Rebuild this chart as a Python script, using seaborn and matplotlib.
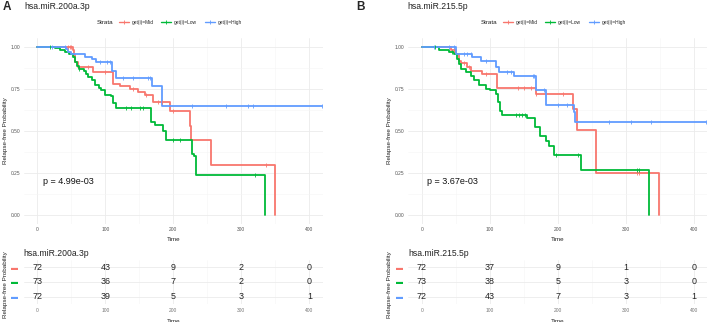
import numpy as np
import pandas as pd
import seaborn as sns
import matplotlib.pyplot as plt
from matplotlib.lines import Line2D

# ---- data ----
groups = ['get(i)=Mid', 'get(i)=Low', 'get(i)=High']
palette = {'get(i)=Mid': '#F8766D', 'get(i)=Low': '#00BA38', 'get(i)=High': '#619CFF'}

# panel A: hsa.miR.200a.3p
a_mid_t = [0, 52, 54, 55, 60, 82, 111, 122, 136, 148, 158, 170, 195, 224, 226, 256, 350]
a_mid_s = [1.0, 0.98, 0.95, 0.91, 0.878, 0.852, 0.78, 0.765, 0.748, 0.733, 0.714, 0.674, 0.615, 0.53, 0.445, 0.30, 0.0]
a_mid_c = [45, 48, 50, 75, 100, 140, 160, 178, 183, 200, 336]

a_low_t = [0, 26, 33, 41, 47, 52, 55, 58, 61, 68, 72, 75, 80, 85, 90, 94, 100, 108, 112, 116,
           167, 173, 185, 189, 228, 231, 234, 335]
a_low_s = [1.0, 0.99, 0.98, 0.967, 0.957, 0.94, 0.91, 0.886, 0.868, 0.856, 0.84, 0.82, 0.80, 0.774,
           0.754, 0.74, 0.715, 0.705, 0.665, 0.636, 0.55, 0.537, 0.498, 0.445, 0.36, 0.35, 0.24, 0.0]
a_low_c = [18, 62, 130, 138, 151, 156, 200, 210, 320]

a_high_t = [0, 42, 45, 49, 70, 80, 87, 110, 115, 169, 183, 418]
a_high_s = [1.0, 0.985, 0.97, 0.957, 0.937, 0.925, 0.909, 0.858, 0.811, 0.764, 0.65, 0.65]
a_high_c = [21, 41, 92, 102, 107, 126, 141, 163, 166, 227, 277, 310, 317, 418]

a_risk_mid = [72, 43, 9, 2, 0]
a_risk_low = [73, 36, 7, 2, 0]
a_risk_high = [72, 39, 5, 3, 1]

# panel B: hsa.miR.215.5p
b_mid_t = [0, 43, 50, 55, 58, 67, 73, 89, 110, 168, 223, 228, 256, 349]
b_mid_s = [1.0, 0.98, 0.956, 0.917, 0.9, 0.88, 0.855, 0.835, 0.757, 0.72, 0.63, 0.505, 0.252, 0.0]
b_mid_c = [48, 62, 70, 94, 141, 150, 160, 168, 207, 317, 320]

b_low_t = [0, 25, 40, 47, 52, 55, 58, 65, 72, 77, 84, 94, 101, 109, 112, 115, 118,
           155, 167, 174, 182, 187, 195, 234, 334]
b_low_s = [1.0, 0.98, 0.966, 0.956, 0.927, 0.897, 0.867, 0.847, 0.827, 0.80, 0.77, 0.75, 0.74,
           0.72, 0.67, 0.62, 0.597, 0.577, 0.52, 0.47, 0.44, 0.41, 0.357, 0.266, 0.0]
b_low_c = [20, 45, 138, 143, 148, 152, 198, 230, 317, 320]

b_high_t = [0, 51, 74, 87, 109, 114, 136, 168, 182, 224, 226, 418]
b_high_s = [1.0, 0.956, 0.937, 0.917, 0.877, 0.851, 0.827, 0.742, 0.655, 0.609, 0.55, 0.55]
b_high_c = [18, 40, 48, 62, 67, 72, 94, 126, 131, 163, 165, 180, 200, 214, 275, 307, 337, 418]

b_risk_mid = [72, 37, 9, 1, 0]
b_risk_low = [73, 38, 5, 3, 0]
b_risk_high = [72, 43, 7, 3, 1]

risk_times = [0, 100, 200, 300, 400]

sns.set_style('white')
plt.rcParams['font.family'] = ['Liberation Sans', 'DejaVu Sans']

W, H = 708, 322
fig = plt.figure(figsize=(W / 100, H / 100), dpi=100)


def rect(x0, y0, x1, y1):
    return [x0 / W, 1 - y1 / H, (x1 - x0) / W, (y1 - y0) / H]


def style_grid(ax):
    ax.grid(which='major', color='#EBEBEB', lw=0.6)
    ax.grid(which='minor', color='#F5F5F5', lw=0.4)
    for s in ax.spines.values():
        s.set_visible(False)


def km_panel(ax, curves, pval):
    rows = []
    for g, (t, s, c) in curves.items():
        rows.append(pd.DataFrame({'time': t, 'surv': s, 'group': g}))
    df = pd.concat(rows, ignore_index=True)
    sns.lineplot(data=df, x='time', y='surv', hue='group', palette=palette,
                 drawstyle='steps-post', estimator=None, legend=False,
                 linewidth=1.3, ax=ax)
    for g, (t, s, c) in curves.items():
        t = np.asarray(t)
        s = np.asarray(s)
        idx = np.searchsorted(t, c, side='right') - 1
        ax.plot(c, s[idx], ls='none', marker='|', ms=3.2, mew=0.6, color=palette[g])
    ax.set_xlim(-20, 420)
    ax.set_ylim(-0.05, 1.05)
    ax.set_xticks([0, 100, 200, 300, 400])
    ax.set_xticks([50, 150, 250, 350], minor=True)
    ax.set_yticks([0, 0.25, 0.5, 0.75, 1.0])
    ax.set_yticklabels(['0.00', '0.25', '0.50', '0.75', '1.00'])
    ax.set_yticks([0.125, 0.375, 0.625, 0.875], minor=True)
    style_grid(ax)
    ax.tick_params(which='major', labelsize=3.5, length=1.5, width=0.4, color='#555555',
                   labelcolor='#555555', pad=1)
    ax.tick_params(which='minor', length=0)
    ax.set_xlabel('Time', fontsize=4.5, color='#222222')
    ax.set_ylabel('Relapse-free Probability', fontsize=4.5, color='#222222')
    ax.xaxis.set_label_coords(0.5, -0.075)
    ax.yaxis.set_label_coords(-0.053, 0.5)
    ax.text(8, 0.2, pval, fontsize=6.5, ha='left', va='center', color='#111111')


def risk_panel(ax, title, counts):
    ax.set_xlim(-20, 420)
    ax.set_ylim(0.5, 3.5)
    for k, (g, n) in enumerate(counts.items()):
        row = 3 - k
        for t, v in zip(risk_times, n):
            ax.text(t, row, str(v), ha='center', va='center', fontsize=6.4, color='#222222')
    ax.set_xticks(risk_times)
    ax.set_xticks([50, 150, 250, 350], minor=True)
    ax.set_yticks([3, 2, 1])
    ax.set_yticklabels(['▬'] * 3)
    for lab, g in zip(ax.get_yticklabels(), counts.keys()):
        lab.set_color(palette[g])
    style_grid(ax)
    ax.tick_params(axis='x', labelsize=3.5, length=0, labelcolor='#777777', pad=3)
    ax.tick_params(axis='y', labelsize=5, length=0, pad=4)
    ax.tick_params(which='minor', length=0)
    ax.set_title(title, loc='left', fontsize=6.2, pad=3, color='#222222')
    ax.set_xlabel('Time', fontsize=4.5, color='#222222')
    ax.set_ylabel('Relapse-free Probability', fontsize=4.5, color='#222222')
    ax.xaxis.set_label_coords(0.5, -0.33)
    ax.yaxis.set_label_coords(-0.053, 0.45)


def legend_row(x_strata, x_items, y):
    fig.text(x_strata / W, 1 - y / H, 'Strata', fontsize=4.5, va='center', ha='left', color='#222222')
    handles = [Line2D([], [], color=palette[g], lw=1.0, marker='|', ms=3, mew=0.6) for g in groups]
    fig.legend(handles, groups, ncol=3, loc='center left', bbox_to_anchor=(x_items / W, 1 - y / H),
               frameon=False, fontsize=3.5, handlelength=2.0, columnspacing=1.6, handletextpad=0.6,
               borderpad=0, borderaxespad=0)


# ---- panel A ----
axA = fig.add_axes(rect(23.7, 38.2, 323, 223.5))
km_panel(axA, {'get(i)=Mid': (a_mid_t, a_mid_s, a_mid_c),
               'get(i)=Low': (a_low_t, a_low_s, a_low_c),
               'get(i)=High': (a_high_t, a_high_s, a_high_c)}, 'p = 4.99e-03')
rA = fig.add_axes(rect(23.7, 260, 323, 304))
risk_panel(rA, 'hsa.miR.200a.3p', {'get(i)=Mid': a_risk_mid, 'get(i)=Low': a_risk_low,
                                   'get(i)=High': a_risk_high})
fig.text(3 / W, 1 - 6.5 / H, 'A', fontsize=8.5, fontweight='bold', va='center', ha='left')
fig.text(24 / W, 1 - 6.5 / H, 'hsa.miR.200a.3p', fontsize=6.2, va='center', ha='left', color='#222222')
legend_row(97, 119, 22.7)

# ---- panel B ----
axB = fig.add_axes(rect(408.1, 38.2, 707.4, 223.5))
km_panel(axB, {'get(i)=Mid': (b_mid_t, b_mid_s, b_mid_c),
               'get(i)=Low': (b_low_t, b_low_s, b_low_c),
               'get(i)=High': (b_high_t, b_high_s, b_high_c)}, 'p = 3.67e-03')
rB = fig.add_axes(rect(408.1, 260, 707.4, 304))
risk_panel(rB, 'hsa.miR.215.5p', {'get(i)=Mid': b_risk_mid, 'get(i)=Low': b_risk_low,
                                  'get(i)=High': b_risk_high})
fig.text(356 / W, 1 - 6.5 / H, 'B', fontsize=8.5, fontweight='bold', va='center', ha='left')
fig.text(407 / W, 1 - 6.5 / H, 'hsa.miR.215.5p', fontsize=6.2, va='center', ha='left', color='#222222')
legend_row(481, 503, 22.7)

fig.savefig('out.png', dpi=100)
